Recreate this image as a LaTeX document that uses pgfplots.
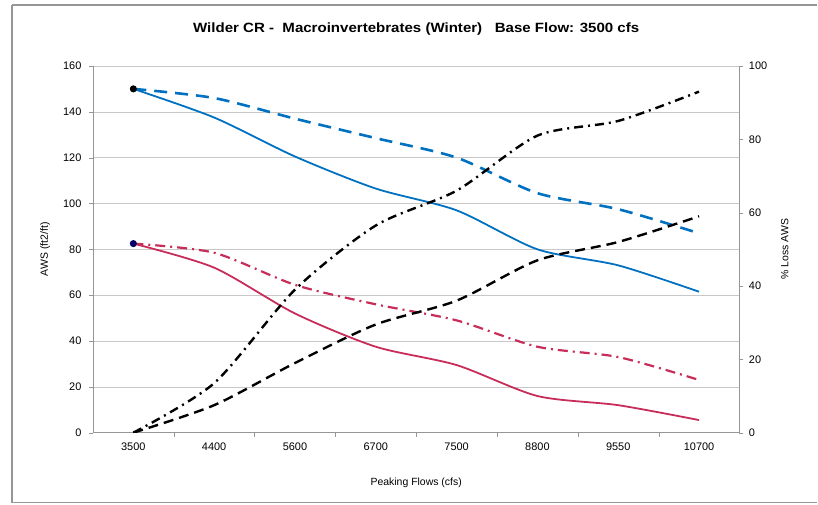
\documentclass[border=0pt]{standalone}
\usepackage{fontspec}
\setmainfont{Liberation Sans}
\usepackage{pgfplots}
\pgfplotsset{compat=1.18}
\usetikzlibrary{calc}
\definecolor{cblue}{RGB}{0,112,192}
\definecolor{cred}{RGB}{200,45,90}
\definecolor{cgrid}{RGB}{200,200,200}
\definecolor{caxis}{RGB}{150,150,150}
\begin{document}
\begin{tikzpicture}[x=1bp,y=1bp]
\pgfplotsset{
  common/.style={
    scale only axis, width=647bp, height=367bp,
    xmin=-0.5, xmax=7.5,
    /pgf/number format/assume math mode=true,
    ticklabel style={font=\fontsize{11}{13}\selectfont},
    axis line style={caxis},
    tick style={caxis},
  }
}
\begin{axis}[common, name=ax,
  ymin=0, ymax=160, ytick={0,20,...,160},
  axis y line*=left, axis x line*=bottom,
  ymajorgrids, grid style={cgrid},
  xtick={0,...,7}, xticklabels={3500,4400,5600,6700,7500,8800,9550,10700},
  major x tick style={draw=none},
  minor xtick={0.5,1.5,...,6.5},
  minor x tick style={caxis},
  tick align=outside, major tick length=4bp, minor tick length=4bp,
  yticklabel style={xshift=-4bp},
  xticklabel style={yshift=-3bp},
  xlabel={Peaking Flows (cfs)}, ylabel={AWS (ft2/ft)},
  label style={font=\fontsize{10.5}{12}\selectfont},
  xlabel style={yshift=-20bp},
  ylabel style={at={(axis description cs:-0.074,0.5)}, anchor=center, rotate=0},
  title={\addfontfeatures{FakeStretch=1.12}\bfseries Wilder CR -\ \ Macroinvertebrates (Winter)\ \ \ Base Flow: 3500 cfs},
  title style={font=\fontsize{13.5}{15}\selectfont, yshift=21bp},
  clip=false,
]
\addplot[cblue, line width=1.8bp, smooth, tension=0.45, mark=*, mark indices={1}, mark size=2.6bp, mark options={black, fill=black, solid}]
  coordinates {(0,150) (1,137.5) (2,120.5) (3,106.5) (4,97) (5,80) (6,73) (7,61.5)};
\addplot[cblue, line width=2.6bp, dash pattern=on 13bp off 8bp, smooth, tension=0.45]
  coordinates {(0,150) (1,146) (2,137) (3,128.5) (4,120) (5,104.5) (6,97.5) (7,87)};
\addplot[cred, line width=1.8bp, smooth, tension=0.45, mark=*, mark indices={1}, mark size=2.6bp, mark options={fill=blue!40!black, draw=blue!40!black, solid}]
  coordinates {(0,82.5) (1,72) (2,52) (3,37.5) (4,29.5) (5,16) (6,12) (7,5.5)};
\addplot[cred, line width=2.2bp, dash pattern=on 10bp off 5bp on 2bp off 5bp, smooth, tension=0.45]
  coordinates {(0,82.5) (1,78.5) (2,64.5) (3,56) (4,49) (5,37.5) (6,33) (7,23)};
\end{axis}
\begin{axis}[common,
  ymin=0, ymax=100, ytick={0,20,...,100},
  axis y line*=right, axis x line=none,
  tick align=outside, major tick length=4bp,
  yticklabel style={xshift=2bp},
  ylabel={\% Loss AWS},
  ylabel style={font=\fontsize{10.5}{12}\selectfont, at={(axis description cs:1.07,0.5)}, anchor=center},
]
\addplot[black, line width=2.4bp, dash pattern=on 9bp off 5bp on 2bp off 5bp, smooth, tension=0.45]
  coordinates {(0,0) (1,13.5) (2,39) (3,56.5) (4,66) (5,81) (6,85) (7,93)};
\addplot[black, line width=2.4bp, dash pattern=on 10bp off 6bp, smooth, tension=0.45]
  coordinates {(0,0) (1,7.5) (2,19) (3,29.5) (4,36) (5,47) (6,52) (7,59)};
\end{axis}
\draw[caxis, line width=1.2bp] ($(ax.south west)+(-81bp,-70bp)$) -- ($(ax.north west)+(-81bp,61bp)$);
\draw[caxis, line width=1.2bp] ($(ax.north west)+(-81bp,61bp)$) -- ($(ax.north east)+(78bp,61bp)$);
\draw[caxis, line width=1.2bp] ($(ax.south west)+(-81bp,-70bp)$) -- ($(ax.south east)+(78bp,-70bp)$);
\useasboundingbox ($(ax.south west)+(-93bp,-72bp)$) rectangle ($(ax.north east)+(78bp,66bp)$);
\end{tikzpicture}
\end{document}
